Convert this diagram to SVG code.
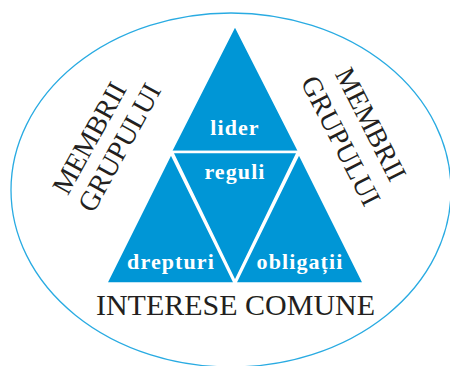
<svg xmlns="http://www.w3.org/2000/svg" width="450" height="366" viewBox="0 0 450 366">
  <style>
    .part { fill: #0096d6; stroke: #ffffff; stroke-width: 2.6; stroke-linejoin: miter; }
    .lbl { font-family: "Liberation Serif", "Times New Roman", serif; font-weight: bold; font-size: 22px; fill: #ffffff; text-anchor: middle; letter-spacing: 1.1px; }
    .side { font-family: "Liberation Serif", "Times New Roman", serif; font-size: 28px; fill: #231f20; text-anchor: middle; }
    .base { font-family: "Liberation Serif", "Times New Roman", serif; font-size: 30px; fill: #231f20; text-anchor: middle; }
  </style>
  <rect width="450" height="366" fill="#ffffff"/>
  <g id="group-ellipse">
    <ellipse cx="231" cy="190" rx="220" ry="177" fill="none" stroke="#29abe2" stroke-width="1.3"/>
  </g>
  <g id="node-lider">
    <polygon class="part" points="235,25 299.5,152 170.5,152"/>
    <text class="lbl" x="235" y="135">lider</text>
  </g>
  <g id="node-reguli">
    <polygon class="part" points="172,152 298,152 235,282"/>
    <text class="lbl" x="235" y="179">reguli</text>
  </g>
  <g id="node-drepturi">
    <polygon class="part" points="171,153 235,283.5 106,283.5"/>
    <text class="lbl" x="171" y="269">drepturi</text>
  </g>
  <g id="node-obligatii">
    <polygon class="part" points="299,153 364,283.5 235,283.5"/>
    <text class="lbl" x="300" y="269">obligații</text>
  </g>
  <g id="connectors"></g>
  <g id="label-left">
    <text class="side" transform="translate(97.5,142.5) rotate(-61)">MEMBRII</text>
    <text class="side" transform="translate(127.5,152) rotate(-61)">GRUPULUI</text>
  </g>
  <g id="label-right">
    <text class="side" transform="translate(362.5,128.5) rotate(63)">MEMBRII</text>
    <text class="side" transform="translate(332.5,145) rotate(63)">GRUPULUI</text>
  </g>
  <g id="label-bottom">
    <text class="base" x="235.5" y="315">INTERESE COMUNE</text>
  </g>
</svg>
